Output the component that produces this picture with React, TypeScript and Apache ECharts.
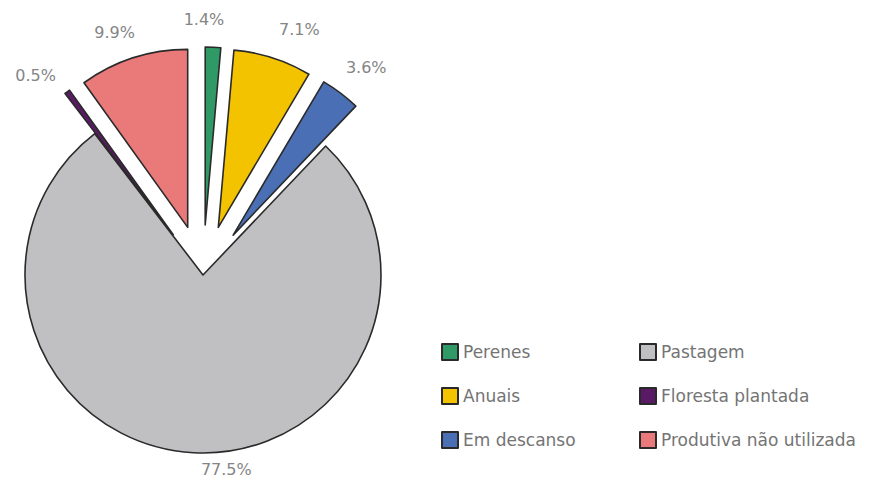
import React, { useEffect, useRef } from "react";
import * as echarts from "echarts";

const categories = ["Perenes", "Anuais", "Em descanso", "Pastagem", "Floresta plantada", "Produtiva não utilizada"];
const values = [1.4, 7.1, 3.6, 77.5, 0.5, 9.9];
const colors = ["#2f9a66", "#f3c300", "#4a6fb5", "#c0c0c3", "#5b1a66", "#ea7a7a"];
const exploded = [true, true, true, false, true, true];
const legendLeft = ["Perenes", "Anuais", "Em descanso"];
const legendRight = ["Pastagem", "Floresta plantada", "Produtiva não utilizada"];

// label nudges (dx, dy) from ECharts' outside position, by category index
const labelNudge: [number, number][] = [
  [-39, -14],
  [-7, -15],
  [-12, -14],
  [68, 3],
  [6, -5],
  [15, -12],
];

export default function App() {
  const ref = useRef<HTMLDivElement>(null);
  useEffect(() => {
    const chart = echarts.init(ref.current!, null, { renderer: "svg" });
    const legendCommon = {
      orient: "vertical",
      top: 338,
      itemWidth: 16,
      itemHeight: 16,
      itemGap: 26,
      icon: "rect",
      selectedMode: false,
      textStyle: { fontSize: 17, color: "#747474", fontFamily: "DejaVu Sans, sans-serif" },
    };
    chart.setOption({
      animation: false,
      backgroundColor: "#ffffff",
      legend: [
        { ...legendCommon, left: 436, data: legendLeft },
        { ...legendCommon, left: 634, data: legendRight },
      ],
      series: [
        {
          type: "pie",
          center: [203, 275],
          radius: 178,
          startAngle: 90,
          clockwise: true,
          selectedMode: "multiple",
          selectedOffset: 50,
          avoidLabelOverlap: false,
          itemStyle: { borderColor: "#2a2a2a", borderWidth: 1.6 },
          label: {
            show: true,
            position: "outside",
            formatter: (p: any) => p.value.toFixed(1) + "%",
            fontSize: 16,
            color: "#858585",
            fontFamily: "DejaVu Sans, sans-serif",
          },
          labelLine: { show: false, length: 14, length2: 4 },
          labelLayout: (params: any) => {
            const n = labelNudge[params.dataIndex] || [0, 0];
            return { dx: n[0], dy: n[1] };
          },
          emphasis: { disabled: true },
          data: categories.map((name, i) => ({
            name,
            value: values[i],
            selected: exploded[i],
            itemStyle: { color: colors[i] },
          })),
        },
      ],
    });
    return () => chart.dispose();
  }, []);
  return (
    <div
      ref={ref}
      style={{ position: "fixed", left: 0, top: 0, width: 888, height: 482 }}
    />
  );
}
